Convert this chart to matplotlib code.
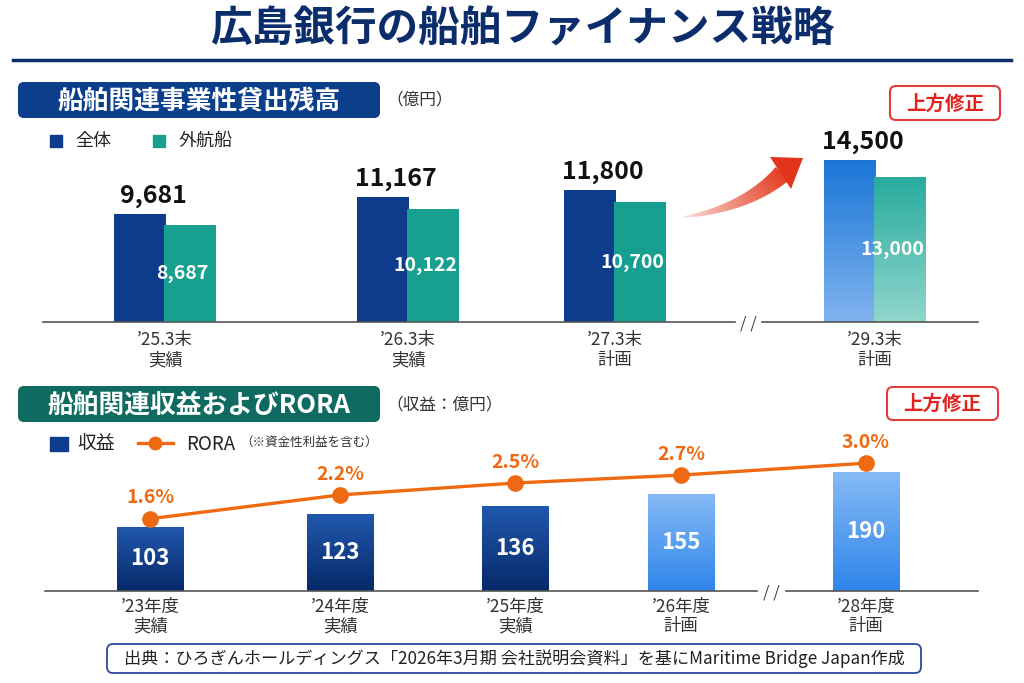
import numpy as np
import matplotlib
matplotlib.use('Agg')
import matplotlib.pyplot as plt
from matplotlib.patches import FancyBboxPatch, Polygon, Rectangle
from matplotlib.colors import LinearSegmentedColormap, to_rgb

plt.rcParams['font.family'] = ['Noto Sans CJK JP', 'DejaVu Sans']

# data
loan_periods = ['’25.3末', '’26.3末', '’27.3末', '’29.3末']
loan_status = ['実績', '実績', '計画', '計画']
loan_total = [9681, 11167, 11800, 14500]
loan_ocean = [8687, 10122, 10700, 13000]

rev_years = ['’23年度', '’24年度', '’25年度', '’26年度', '’28年度']
rev_status = ['実績', '実績', '実績', '計画', '計画']
revenue = [103, 123, 136, 155, 190]
rora = [1.6, 2.2, 2.5, 2.7, 3.0]

# layout (pixels)
W, H = 1024, 683
top_x = np.array([165, 408, 615, 875])
bot_x = np.array([150, 340, 515, 681, 866])
NAVY = '#0c3c8b'
TEAL = '#17a08f'
ORANGE = '#ee6a12'
RED = '#e0231f'
TITLE = '#0c2d6b'

fig = plt.figure(figsize=(W / 100, H / 100), dpi=100)
fig.patch.set_facecolor('white')


def grad_fill(ax, rect, c_top, c_bot):
    x0, y0 = rect.get_x(), rect.get_y()
    w, h = rect.get_width(), rect.get_height()
    cmap = LinearSegmentedColormap.from_list('g', [c_bot, c_top])
    g = np.linspace(0, 1, 256).reshape(-1, 1)
    im = ax.imshow(g, extent=(x0, x0 + w, y0, y0 + h), origin='lower',
                   cmap=cmap, aspect='auto', zorder=rect.get_zorder() + 0.1)
    im.set_clip_path(rect)


# ---- top chart
ax1 = fig.add_axes([0, 1 - 322 / H, 1, 190 / H])
bw = 52
b_tot = ax1.bar(top_x - 25, loan_total, width=bw, color=NAVY, zorder=2)
b_oc = ax1.bar(top_x + 25, loan_ocean, width=bw, color=TEAL, zorder=3)
grad_fill(ax1, b_tot[3], '#1a76d6', '#80b3ef')
grad_fill(ax1, b_oc[3], '#27ab9d', '#91d6cd')
for i in range(len(loan_total)):
    ax1.annotate(f'{loan_total[i]:,}', (top_x[i] - 12, loan_total[i]),
                 xytext=(0, 13), textcoords='offset points', ha='center',
                 va='center', fontsize=18, fontweight='bold', color='#111')
    ax1.text(top_x[i] + 25 - 8, loan_ocean[i] * 0.5, f'{loan_ocean[i]:,}',
             ha='center', va='center', fontsize=14, fontweight='bold',
             color='white', zorder=5)
ax1.set_xlim(0, W)
ax1.set_ylim(0, 17000)
ax1.axis('off')

# ---- bottom chart
ax2 = fig.add_axes([0, 1 - 591 / H, 1, 151 / H])
bars = ax2.bar(bot_x, revenue, width=67, zorder=2)
for i, b in enumerate(bars):
    if rev_status[i] == '実績':
        grad_fill(ax2, b, '#2158ad', '#07296a')
    else:
        grad_fill(ax2, b, '#86baf6', '#2e85ea')
    ax2.text(bot_x[i], revenue[i] / 2, f'{revenue[i]}', ha='center',
             va='center', fontsize=16, fontweight='bold', color='white',
             zorder=5)
ax2.set_xlim(0, W)
ax2.set_ylim(0, 241.6)
ax2.axis('off')

ax3 = ax2.twinx()
ax3.plot(bot_x, rora, color=ORANGE, lw=2.4, marker='o', ms=11, zorder=4)
for i in range(len(rora)):
    ax3.annotate(f'{rora[i]:.1f}%', (bot_x[i], rora[i]), xytext=(0, 15),
                 textcoords='offset points', ha='center', va='center',
                 fontsize=14, fontweight='bold', color=ORANGE)
ax3.set_xlim(0, W)
ax3.set_ylim(-0.22, 3.584)
ax3.axis('off')

# ---- overlay in pixel coords
ov = fig.add_axes([0, 0, 1, 1])
ov.set_xlim(0, W)
ov.set_ylim(H, 0)
ov.axis('off')

ov.text(522, 30, '広島銀行の船舶ファイナンス戦略', ha='center', va='center',
        fontsize=30, fontweight='bold', color=TITLE)
ov.plot([13, 1011], [60, 60], color=TITLE, lw=2.5)


def header(x0, y0, x1, y1, text, color):
    ov.add_patch(FancyBboxPatch((x0, y0), x1 - x0, y1 - y0,
                                boxstyle='round,pad=0,rounding_size=6',
                                fc=color, ec='none'))
    ov.text((x0 + x1) / 2, (y0 + y1) / 2 + 1, text, ha='center', va='center',
            fontsize=18.5, fontweight='bold', color='white')


def badge(x0, y0, x1, y1):
    ov.add_patch(FancyBboxPatch((x0, y0), x1 - x0, y1 - y0,
                                boxstyle='round,pad=0,rounding_size=6',
                                fc='white', ec='#e33a3a', lw=1.5))
    ov.text((x0 + x1) / 2, (y0 + y1) / 2 + 1, '上方修正', ha='center',
            va='center', fontsize=14, fontweight='bold', color=RED)


header(18, 82, 380, 118, '船舶関連事業性貸出残高', '#0b3f8c')
ov.text(386, 100, '（億円）', ha='left', va='center', fontsize=12, color='#333')
badge(890, 86, 1000, 120)

# top legend
ov.add_patch(Rectangle((50, 135), 12, 12, color=NAVY))
ov.text(75, 141, '全体', ha='left', va='center', fontsize=13, color='#222')
ov.add_patch(Rectangle((153, 135), 12, 12, color=TEAL))
ov.text(178, 141, '外航船', ha='left', va='center', fontsize=13, color='#222')

# top baseline + labels
ov.plot([43, 735], [322, 322], color='#555', lw=1.2)
ov.plot([762, 978], [322, 322], color='#555', lw=1.2)
ov.text(748, 324, '/ /', ha='center', va='center', fontsize=12, color='#444')
for i in range(len(loan_periods)):
    ov.text(top_x[i], 340, loan_periods[i], ha='center', va='center',
            fontsize=12.5, color='#333')
    ov.text(top_x[i], 360, loan_status[i], ha='center', va='center',
            fontsize=12.5, color='#333')

# arrow
p0, p1, p2 = np.array([684, 217]), np.array([746, 208]), np.array([782, 174])
t = np.linspace(0, 1, 61)
pts = ((1 - t) ** 2)[:, None] * p0 + (2 * (1 - t) * t)[:, None] * p1 + (t ** 2)[:, None] * p2
d = np.gradient(pts, axis=0)
nrm = np.stack([-d[:, 1], d[:, 0]], axis=1)
nrm /= np.linalg.norm(nrm, axis=1)[:, None]
hw = 0.5 + 8.5 * t
c0, c1 = np.array(to_rgb('#fbe4de')), np.array(to_rgb('#e33b1f'))
for k in range(len(t) - 1):
    q = [pts[k] + nrm[k] * hw[k], pts[k + 1] + nrm[k + 1] * hw[k + 1],
         pts[k + 1] - nrm[k + 1] * hw[k + 1], pts[k] - nrm[k] * hw[k]]
    col = c0 + (c1 - c0) * t[k] ** 0.8
    ov.add_patch(Polygon(q, closed=True, fc=col, ec=col, lw=0.4))
ov.add_patch(Polygon([(770, 157), (803, 158), (791, 189)], closed=True,
                     fc='#e2341b', ec='none'))

# bottom section
header(18, 386, 380, 422, '船舶関連収益およびRORA', '#0f6b61')
ov.text(386, 405, '（収益：億円）', ha='left', va='center', fontsize=12,
        color='#333')
badge(887, 387, 998, 420)

ov.add_patch(Rectangle((50, 437), 18, 14, color=NAVY))
ov.text(77, 444, '収益', ha='left', va='center', fontsize=13.5, color='#222')
ov.plot([138, 173], [443, 443], color=ORANGE, lw=2.4)
ov.plot([155], [443], marker='o', ms=9, color=ORANGE)
ov.text(186, 444, 'RORA', ha='left', va='center', fontsize=13.5, color='#222')
ov.text(240, 442, '（※資金性利益を含む）', ha='left', va='center', fontsize=9,
        color='#333')

ov.plot([45, 757], [591, 591], color='#555', lw=1.2)
ov.plot([786, 978], [591, 591], color='#555', lw=1.2)
ov.text(771, 593, '/ /', ha='center', va='center', fontsize=12, color='#444')
for i in range(len(rev_years)):
    ov.text(bot_x[i], 607, rev_years[i], ha='center', va='center',
            fontsize=12.5, color='#333')
    ov.text(bot_x[i], 626, rev_status[i], ha='center', va='center',
            fontsize=12.5, color='#333')

# source
ov.add_patch(FancyBboxPatch((107, 644), 814, 29,
                            boxstyle='round,pad=0,rounding_size=6',
                            fc='white', ec='#2b4a9c', lw=1.3))
ov.text(514, 659, '出典：ひろぎんホールディングス「2026年3月期 会社説明会資料」を基にMaritime Bridge Japan作成',
        ha='center', va='center', fontsize=12.3, color='#222')

fig.savefig('out.png', dpi=100, facecolor='white')
